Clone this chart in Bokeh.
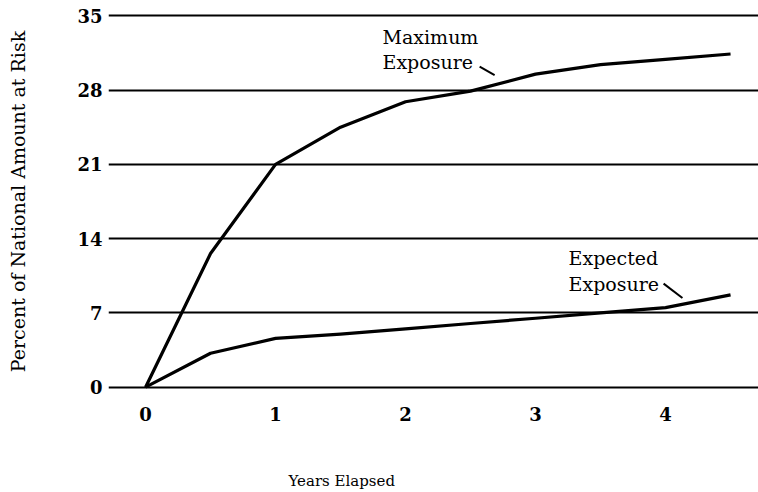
from bokeh.plotting import figure
from bokeh.models import ColumnDataSource, FixedTicker, Range1d, Title
from bokeh.core.properties import value
from bokeh.embed import file_html
from bokeh.resources import INLINE

years = [0, 0.5, 1, 1.5, 2, 2.5, 3, 3.5, 4, 4.5]
maximum_exposure = [0, 12.6, 21.0, 24.5, 26.9, 27.9, 29.5, 30.4, 30.9, 31.4]
expected_exposure = [0, 3.2, 4.6, 5.0, 5.5, 6.0, 6.5, 7.0, 7.5, 8.7]
y_ticks = [0, 7, 14, 21, 28, 35]
x_ticks = [0, 1, 2, 3, 4]

# annotation labels (data coordinates)
label_x = [1.823, 1.823, 3.254, 3.254]
label_y = [33.0, 30.6, 12.2, 9.76]
label_text = ["Maximum", "Exposure", "Expected", "Exposure"]
leader_x0 = [2.57, 3.985]
leader_y0 = [30.2, 9.76]
leader_x1 = [2.685, 4.13]
leader_y1 = [29.4, 8.4]
x_title = "Years Elapsed"

SERIF = "DejaVu Serif"

p = figure(width=758, height=492, output_backend="svg", toolbar_location=None,
           x_range=Range1d(-0.285, 4.715), y_range=Range1d(-0.5, 35.5),
           min_border_left=108, min_border_right=0, min_border_top=10,
           min_border_bottom=100)
p.outline_line_color = None
p.background_fill_color = "white"

p.xgrid.grid_line_color = None
p.ygrid.grid_line_color = "black"
p.ygrid.grid_line_width = 2
p.ygrid.ticker = FixedTicker(ticks=y_ticks)

p.yaxis.ticker = FixedTicker(ticks=y_ticks)
p.xaxis.ticker = FixedTicker(ticks=x_ticks)
for ax in (p.xaxis, p.yaxis):
    ax.axis_line_color = None
    ax.major_tick_line_color = None
    ax.minor_tick_line_color = None
    ax.major_label_text_font = SERIF
    ax.major_label_text_font_size = "18px"
    ax.major_label_text_font_style = "bold"
    ax.major_label_text_color = "black"
    ax.axis_label_text_font = SERIF
    ax.axis_label_text_font_style = "normal"
    ax.axis_label_text_color = "black"

p.yaxis.axis_label = "Percent of National Amount at Risk"
p.yaxis.axis_label_text_font_size = "19px"
p.xaxis.major_label_standoff = 8
p.yaxis.major_label_standoff = 0
p.yaxis.axis_label_standoff = 45

# blank spacer label that reserves room below the x tick labels
p.xaxis.axis_label = " "
p.xaxis.axis_label_text_font_size = "20px"
p.xaxis.axis_label_standoff = 16

src = ColumnDataSource(dict(x=years, mx=maximum_exposure, ex=expected_exposure))
p.line("x", "mx", source=src, line_color="black", line_width=3.2, line_join="round")
p.line("x", "ex", source=src, line_color="black", line_width=3.2, line_join="round")

lab = ColumnDataSource(dict(x=label_x, y=label_y, t=label_text))
p.text("x", "y", text="t", source=lab, text_font=value(SERIF), text_font_size="19px",
       text_color="black", text_baseline="middle", text_align="left")

p.segment(leader_x0, leader_y0, leader_x1, leader_y1, line_color="black", line_width=2)

p.add_layout(Title(text=x_title, align="left", offset=180, standoff=6,
                   vertical_align="bottom",
                   text_font=SERIF, text_font_size="15px", text_font_style="normal",
                   text_color="black"), "below")

open("out.html", "w").write(file_html(p, INLINE))
